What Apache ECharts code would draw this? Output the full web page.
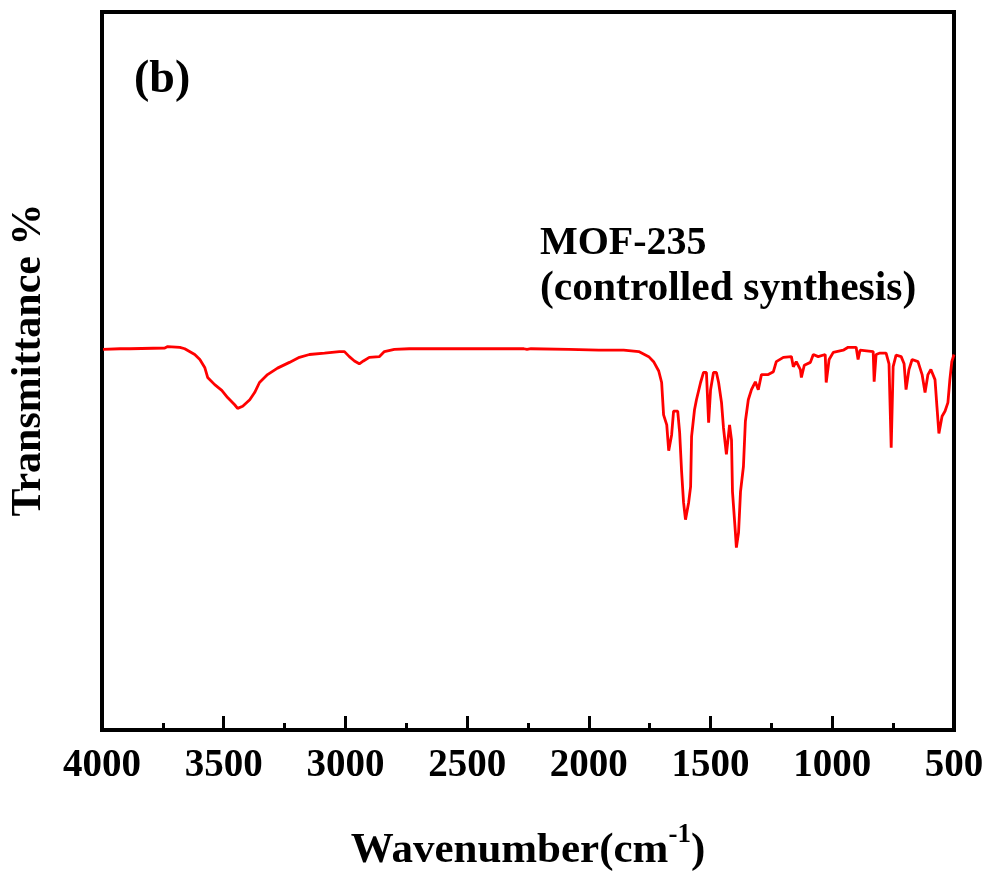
<!DOCTYPE html>
<html>
<head>
<meta charset="utf-8">
<script src="https://cdn.jsdelivr.net/npm/echarts@6/dist/echarts.min.js"></script>
<style>
  html, body { margin: 0; padding: 0; background: #fff; }
  #chart { width: 992px; height: 875px; }
</style>
</head>
<body>
<div id="chart"></div>
<script>
// FTIR spectrum of MOF-235 (controlled synthesis)
const wavenumber = [
  3996, 3926, 3885, 3742, 3730, 3680, 3660, 3619, 3598, 3578,
  3566, 3537, 3508, 3484, 3455, 3443, 3422, 3393, 3373, 3353,
  3320, 3279, 3230, 3189, 3148, 3086, 3025, 3004, 2984, 2963,
  2943, 2926, 2902, 2861, 2840, 2799, 2738, 2267, 2254, 2238,
  2082, 1959, 1857, 1795, 1754, 1734, 1713, 1701, 1693, 1680,
  1672, 1660, 1652, 1635, 1627, 1619, 1611, 1603, 1590, 1582,
  1578, 1566, 1558, 1541, 1529, 1517, 1508, 1500, 1488, 1476,
  1467, 1455, 1447, 1435, 1422, 1414, 1410, 1398, 1394, 1385,
  1377, 1365, 1357, 1345, 1332, 1316, 1304, 1291, 1263, 1242,
  1230, 1201, 1168, 1160, 1148, 1131, 1127, 1115, 1090, 1078,
  1058, 1029, 1025, 1013, 996, 955, 935, 902, 894, 886,
  832, 828, 820, 804, 779, 767, 758, 750, 738, 717,
  705, 697, 685, 672, 648, 631, 619, 607, 595, 578,
  570, 562, 549, 537, 525, 517, 509, 500
];
const transmittance = [
  53.0, 53.1, 53.1, 53.2, 53.4, 53.3, 53.1, 52.3, 51.6, 50.5,
  49.1, 48.1, 47.3, 46.3, 45.3, 44.8, 45.1, 46.0, 47.0, 48.4,
  49.5, 50.4, 51.2, 51.9, 52.3, 52.5, 52.7, 52.7, 52.0, 51.4,
  51.0, 51.4, 51.9, 52.0, 52.7, 53.0, 53.1, 53.1, 53.0, 53.1,
  53.0, 52.9, 52.9, 52.7, 52.0, 51.3, 50.0, 48.4, 43.9, 42.5,
  38.9, 41.1, 44.4, 44.4, 41.4, 36.0, 31.7, 29.3, 31.7, 33.9,
  40.9, 44.6, 46.0, 48.4, 49.8, 49.8, 42.8, 47.4, 49.8, 49.8,
  48.4, 45.6, 42.1, 38.4, 42.5, 40.4, 33.2, 27.5, 25.4, 27.5,
  33.2, 36.7, 43.0, 46.0, 47.4, 48.5, 47.4, 49.5, 49.5, 49.9,
  51.3, 51.9, 52.0, 50.6, 51.3, 50.2, 49.1, 50.8, 51.2, 52.3,
  52.0, 52.3, 48.4, 51.6, 52.6, 52.9, 53.3, 53.3, 51.6, 52.9,
  52.7, 48.5, 52.3, 52.5, 52.5, 51.0, 39.3, 50.6, 52.2, 52.0,
  51.0, 47.4, 50.2, 51.6, 51.3, 49.5, 47.0, 49.5, 50.2, 48.8,
  45.0, 41.3, 43.7, 44.4, 45.6, 48.8, 51.3, 52.3
];
const xTicks = { min: 500, max: 4000, step: 500 };

const serif = '"Liberation Serif", "Times New Roman", serif';
const points = wavenumber.map((w, i) => [w, transmittance[i]]);

const chart = echarts.init(document.getElementById('chart'), null, { renderer: 'canvas' });
chart.setOption({
  backgroundColor: '#ffffff',
  animation: false,
  grid: {
    left: 102, right: 38, top: 12, bottom: 145,
    containLabel: false,
    outerBoundsMode: 'none',
    show: true, borderColor: '#000', borderWidth: 4, backgroundColor: 'transparent'
  },
  xAxis: {
    type: 'value',
    inverse: true,
    min: xTicks.min,
    max: xTicks.max,
    interval: xTicks.step,
    z: 10,
    name: '{a|Wavenumber(cm}{s|-1}{a|)}',
    nameLocation: 'middle',
    nameGap: 92,
    nameTextStyle: {
      rich: {
        a: { fontFamily: serif, fontWeight: 'bold', fontSize: 43, color: '#000', verticalAlign: 'bottom', lineHeight: 50 },
        s: { fontFamily: serif, fontWeight: 'bold', fontSize: 27, color: '#000', verticalAlign: 'top', lineHeight: 50, padding: [0, 0, 24, 0] }
      }
    },
    axisLine: { show: true, lineStyle: { color: '#000', width: 4 } },
    axisTick: { show: true, inside: true, length: 14, lineStyle: { color: '#000', width: 3 } },
    minorTick: { show: true, splitNumber: 2, length: 7, lineStyle: { color: '#000', width: 3 } },
    axisLabel: {
      fontFamily: serif, fontWeight: 'bold', fontSize: 39, color: '#000', margin: 16,
      formatter: (v) => String(v)
    },
    splitLine: { show: false },
    minorSplitLine: { show: false }
  },
  yAxis: {
    type: 'value',
    min: 0,
    max: 100,
    name: 'Transmittance %',
    nameLocation: 'middle',
    nameRotate: 90,
    nameGap: 52,
    nameTextStyle: { fontFamily: serif, fontWeight: 'bold', fontSize: 42, color: '#000', padding: [0, 0, 0, 22] },
    axisLine: { show: true, lineStyle: { color: '#000', width: 4 } },
    axisTick: { show: false },
    axisLabel: { show: false },
    splitLine: { show: false }
  },
  graphic: [
    { type: 'text', left: 134, top: 57, style: { text: '(b)', font: 'bold 46px ' + serif, fill: '#000' } },
    { type: 'text', left: 540, top: 224, style: { text: 'MOF-235', font: 'bold 40px ' + serif, fill: '#000' } },
    { type: 'text', left: 540, top: 268, style: { text: '(controlled synthesis)', font: 'bold 41.5px ' + serif, fill: '#000' } }
  ],
  series: [
    {
      type: 'line',
      data: points,
      showSymbol: false,
      lineStyle: { color: '#ff0000', width: 2.8 },
      itemStyle: { color: '#ff0000' },
      z: 2
    }
  ]
});
</script>
</body>
</html>
